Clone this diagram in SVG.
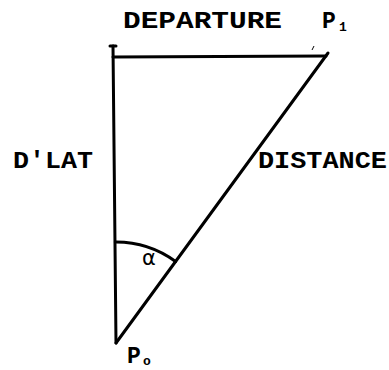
<svg xmlns="http://www.w3.org/2000/svg" width="389" height="370" viewBox="0 0 389 370">
<style>
.lbl{font-family:"Liberation Mono","DejaVu Sans Mono",monospace;font-weight:bold;font-size:23px;fill:#000}
.sub{font-family:"Liberation Mono","DejaVu Sans Mono",monospace;font-weight:bold;font-size:13px;fill:#000}
.ln{stroke:#000;stroke-width:3;fill:none;stroke-linecap:round}
</style>
<rect width="389" height="370" fill="#fff"/>
<g id="connectors">
<line class="ln" x1="113" y1="46" x2="116" y2="343"/>
<line class="ln" x1="110" y1="46" x2="116" y2="46" stroke-width="2"/>
<line class="ln" x1="113" y1="57" x2="326" y2="56" stroke-width="2.5"/>
<line class="ln" x1="116" y1="343" x2="328" y2="53"/>
<line x1="312" y1="50" x2="314" y2="46" stroke="#000" stroke-width="1"/>
<path class="ln" d="M115.3,242 A101,101 0 0 1 175.6,261.5" stroke-width="2.5"/>
</g>
<g id="departure"><text class="lbl" x="123" y="28" textLength="159" lengthAdjust="spacingAndGlyphs">DEPARTURE</text></g>
<g id="p1"><text class="lbl" x="322" y="28">P</text><text class="sub" x="339" y="31">1</text></g>
<g id="dlat"><text class="lbl" x="13" y="168" textLength="80" lengthAdjust="spacingAndGlyphs">D'LAT</text></g>
<g id="distance"><text class="lbl" x="258" y="168" textLength="129" lengthAdjust="spacingAndGlyphs">DISTANCE</text></g>
<g id="alpha"><text x="142" y="265" style="font-family:'DejaVu Sans',sans-serif;font-size:21px;fill:#000">α</text></g>
<g id="p0"><text class="lbl" x="127" y="363">P</text><text class="sub" x="143" y="365">o</text></g>
</svg>
